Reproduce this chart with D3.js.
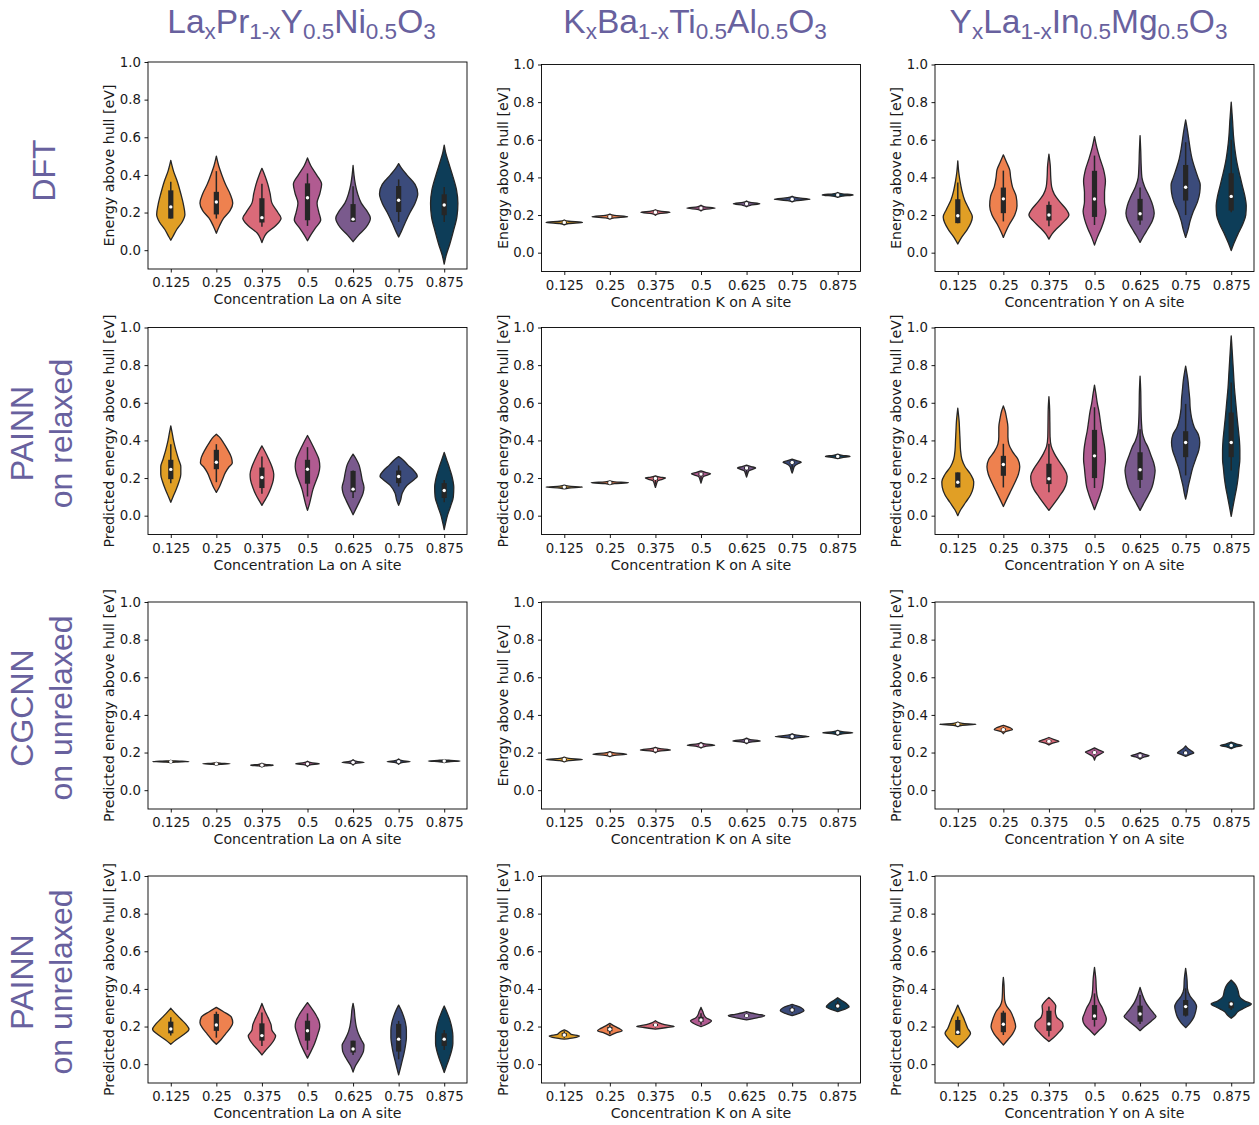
<!DOCTYPE html>
<html>
<head>
<meta charset="utf-8">
<script src="https://cdn.jsdelivr.net/npm/d3@7"></script>
<style>
  body { margin: 0; background: #fff; }
  text { font-family: "DejaVu Sans", sans-serif; }
</style>
</head>
<body>
<svg id="chart" width="1259" height="1125"></svg>
<script>
// categories and labels
var concentrations = ["0.125", "0.25", "0.375", "0.5", "0.625", "0.75", "0.875"];
var violinColors = ["#e19f25", "#ee814f", "#da6a79", "#b15b91", "#7a5a8d", "#3b4b7b", "#0d3d58"];
var yTicks = [0.0, 0.2, 0.4, 0.6, 0.8, 1.0];
var xLabels = ["Concentration La on A site", "Concentration K on A site", "Concentration Y on A site"];
var yLabelDft = "Energy above hull [eV]";
var yLabelPred = "Predicted energy above hull [eV]";
// [text, subscript?]
var colTitles = [
  [["La", 0], ["x", 1], ["Pr", 0], ["1-x", 1], ["Y", 0], ["0.5", 1], ["Ni", 0], ["0.5", 1], ["O", 0], ["3", 1]],
  [["K", 0], ["x", 1], ["Ba", 0], ["1-x", 1], ["Ti", 0], ["0.5", 1], ["Al", 0], ["0.5", 1], ["O", 0], ["3", 1]],
  [["Y", 0], ["x", 1], ["La", 0], ["1-x", 1], ["In", 0], ["0.5", 1], ["Mg", 0], ["0.5", 1], ["O", 0], ["3", 1]]
];
var rowLabels = [["DFT"], ["PAINN", "on relaxed"], ["CGCNN", "on unrelaxed"], ["PAINN", "on unrelaxed"]];

// violin outlines: [energy, half width as fraction of category step]
// box stats: [whisker low, q1, median, q3, whisker high]

// row 1 : DFT
var dftLaPrShapes = [
  [[0.053,0],[0.07,0.04],[0.11,0.13],[0.15,0.25],[0.19,0.31],[0.24,0.28],[0.30,0.22],[0.36,0.15],[0.42,0.06],[0.477,0]],
  [[0.09,0],[0.13,0.07],[0.17,0.16],[0.21,0.3],[0.25,0.36],[0.30,0.3],[0.35,0.2],[0.40,0.12],[0.45,0.05],[0.50,0]],
  [[0.04,0],[0.06,0.03],[0.09,0.1],[0.13,0.3],[0.17,0.42],[0.20,0.35],[0.25,0.22],[0.30,0.18],[0.35,0.13],[0.40,0.06],[0.435,0]],
  [[0.05,0],[0.08,0.07],[0.12,0.18],[0.16,0.29],[0.20,0.25],[0.25,0.21],[0.30,0.27],[0.35,0.31],[0.40,0.2],[0.45,0.07],[0.49,0]],
  [[0.045,0],[0.08,0.12],[0.12,0.28],[0.17,0.38],[0.21,0.3],[0.25,0.18],[0.30,0.1],[0.35,0.05],[0.40,0.02],[0.45,0]],
  [[0.07,0],[0.10,0.06],[0.15,0.15],[0.20,0.25],[0.25,0.36],[0.30,0.42],[0.35,0.36],[0.40,0.18],[0.44,0.05],[0.46,0]],
  [[-0.074,0],[-0.03,0.04],[0.03,0.12],[0.10,0.2],[0.18,0.28],[0.25,0.3],[0.32,0.27],[0.40,0.18],[0.47,0.09],[0.52,0.03],[0.558,0]]
];
var dftLaPrBoxes = [
  [0.168,0.168,0.23,0.318,0.364], [0.168,0.19,0.256,0.31,0.42], [0.124,0.147,0.173,0.276,0.353],
  [0.129,0.159,0.279,0.355,0.408], [0.15,0.15,0.165,0.245,0.34], [0.15,0.203,0.265,0.341,0.376],
  [0.15,0.186,0.24,0.297,0.336]
];
var dftKBaShapes = [
  [[0.148,0],[0.155,0.1],[0.161,0.4],[0.167,0.1],[0.174,0]],
  [[0.178,0],[0.185,0.1],[0.191,0.39],[0.198,0.1],[0.205,0]],
  [[0.199,0],[0.207,0.08],[0.215,0.32],[0.221,0.1],[0.228,0]],
  [[0.222,0],[0.23,0.08],[0.237,0.31],[0.244,0.08],[0.252,0]],
  [[0.244,0],[0.252,0.08],[0.26,0.29],[0.267,0.08],[0.275,0]],
  [[0.27,0],[0.277,0.1],[0.284,0.39],[0.292,0.1],[0.30,0]],
  [[0.294,0],[0.30,0.1],[0.307,0.34],[0.313,0.1],[0.32,0]]
];
var dftKBaBoxes = [
  [0.153,0.157,0.161,0.165,0.169], [0.183,0.187,0.191,0.195,0.199], [0.207,0.211,0.215,0.219,0.223],
  [0.229,0.233,0.237,0.241,0.245], [0.252,0.256,0.26,0.264,0.268], [0.276,0.28,0.284,0.288,0.292],
  [0.299,0.303,0.307,0.311,0.315]
];
var dftYLaShapes = [
  [[0.046,0],[0.08,0.08],[0.12,0.2],[0.16,0.29],[0.19,0.32],[0.23,0.25],[0.28,0.15],[0.33,0.09],[0.38,0.05],[0.43,0.02],[0.488,0]],
  [[0.081,0],[0.11,0.05],[0.15,0.13],[0.20,0.25],[0.25,0.3],[0.30,0.28],[0.35,0.2],[0.40,0.16],[0.44,0.14],[0.48,0.07],[0.52,0]],
  [[0.072,0],[0.10,0.07],[0.13,0.18],[0.17,0.35],[0.20,0.44],[0.23,0.38],[0.27,0.24],[0.31,0.12],[0.35,0.06],[0.40,0.04],[0.46,0.03],[0.523,0]],
  [[0.04,0],[0.08,0.06],[0.13,0.15],[0.18,0.22],[0.22,0.25],[0.27,0.22],[0.32,0.22],[0.38,0.24],[0.44,0.2],[0.50,0.12],[0.56,0.05],[0.617,0]],
  [[0.055,0],[0.09,0.08],[0.13,0.18],[0.17,0.27],[0.21,0.31],[0.25,0.28],[0.30,0.2],[0.35,0.1],[0.40,0.04],[0.46,0.025],[0.54,0.015],[0.622,0]],
  [[0.081,0],[0.12,0.05],[0.17,0.1],[0.22,0.17],[0.27,0.26],[0.32,0.31],[0.36,0.32],[0.40,0.27],[0.45,0.2],[0.50,0.14],[0.55,0.1],[0.60,0.07],[0.65,0.04],[0.705,0]],
  [[0.011,0],[0.05,0.06],[0.10,0.15],[0.15,0.25],[0.20,0.32],[0.25,0.33],[0.30,0.3],[0.35,0.25],[0.40,0.2],[0.45,0.15],[0.50,0.11],[0.55,0.08],[0.62,0.05],[0.70,0.03],[0.80,0]]
];
var dftYLaBoxes = [
  [0.157,0.157,0.196,0.284,0.373], [0.166,0.21,0.286,0.346,0.436], [0.14,0.171,0.2,0.254,0.272],
  [0.147,0.19,0.285,0.435,0.516], [0.148,0.171,0.207,0.286,0.346], [0.2,0.277,0.348,0.466,0.587],
  [0.215,0.224,0.299,0.422,0.6]
];

// row 2 : PAINN on relaxed
var painnRelLaPrShapes = [
  [[0.071,0],[0.10,0.05],[0.14,0.12],[0.18,0.18],[0.22,0.22],[0.26,0.22],[0.30,0.17],[0.35,0.11],[0.40,0.06],[0.44,0.03],[0.477,0]],
  [[0.124,0],[0.15,0.06],[0.19,0.13],[0.23,0.2],[0.26,0.28],[0.28,0.35],[0.31,0.33],[0.35,0.25],[0.39,0.15],[0.42,0.06],[0.433,0]],
  [[0.055,0],[0.08,0.06],[0.11,0.13],[0.15,0.2],[0.19,0.25],[0.22,0.26],[0.26,0.22],[0.30,0.15],[0.34,0.07],[0.371,0]],
  [[0.028,0],[0.06,0.04],[0.10,0.08],[0.14,0.12],[0.18,0.18],[0.22,0.24],[0.26,0.27],[0.30,0.25],[0.34,0.18],[0.38,0.1],[0.426,0]],
  [[0.005,0],[0.04,0.07],[0.08,0.15],[0.12,0.22],[0.15,0.24],[0.19,0.2],[0.23,0.17],[0.27,0.13],[0.30,0.07],[0.327,0]],
  [[0.055,0],[0.08,0.04],[0.12,0.08],[0.16,0.18],[0.19,0.33],[0.21,0.41],[0.24,0.33],[0.27,0.2],[0.30,0.08],[0.314,0]],
  [[-0.074,0],[-0.04,0.03],[0.0,0.07],[0.05,0.14],[0.10,0.2],[0.15,0.21],[0.20,0.18],[0.25,0.12],[0.30,0.05],[0.336,0]]
];
var painnRelLaPrBoxes = [
  [0.173,0.194,0.246,0.297,0.38], [0.178,0.247,0.284,0.35,0.38], [0.117,0.147,0.203,0.256,0.314],
  [0.102,0.17,0.247,0.297,0.364], [0.094,0.125,0.141,0.238,0.24], [0.155,0.173,0.208,0.24,0.267],
  [0.071,0.094,0.134,0.173,0.19]
];
var painnRelKBaShapes = [
  [[0.142,0],[0.147,0.1],[0.152,0.4],[0.157,0.1],[0.162,0]],
  [[0.165,0],[0.17,0.1],[0.175,0.41],[0.18,0.1],[0.185,0]],
  [[0.15,0],[0.165,0.02],[0.185,0.05],[0.193,0.15],[0.20,0.22],[0.205,0.1],[0.212,0]],
  [[0.173,0],[0.19,0.02],[0.208,0.05],[0.216,0.14],[0.223,0.21],[0.23,0.1],[0.238,0]],
  [[0.205,0],[0.22,0.02],[0.238,0.05],[0.246,0.13],[0.254,0.2],[0.261,0.1],[0.268,0]],
  [[0.226,0],[0.24,0.02],[0.262,0.05],[0.276,0.13],[0.284,0.2],[0.292,0.1],[0.30,0]],
  [[0.303,0],[0.309,0.1],[0.315,0.27],[0.321,0.1],[0.327,0]]
];
var painnRelKBaBoxes = [
  [0.145,0.149,0.152,0.155,0.159], [0.168,0.172,0.175,0.178,0.182], [0.165,0.19,0.198,0.204,0.21],
  [0.19,0.213,0.221,0.227,0.232], [0.222,0.245,0.253,0.259,0.264], [0.245,0.276,0.283,0.289,0.295],
  [0.308,0.312,0.315,0.318,0.322]
];
var painnRelYLaShapes = [
  [[0.0,0],[0.03,0.06],[0.07,0.17],[0.11,0.28],[0.15,0.34],[0.18,0.35],[0.22,0.28],[0.26,0.16],[0.30,0.09],[0.35,0.06],[0.40,0.05],[0.45,0.04],[0.50,0.03],[0.571,0]],
  [[0.049,0],[0.08,0.06],[0.12,0.14],[0.17,0.24],[0.22,0.33],[0.26,0.36],[0.30,0.32],[0.34,0.2],[0.38,0.12],[0.42,0.1],[0.47,0.1],[0.52,0.07],[0.555,0.04],[0.583,0]],
  [[0.028,0],[0.06,0.1],[0.10,0.22],[0.14,0.33],[0.18,0.39],[0.21,0.4],[0.25,0.33],[0.29,0.22],[0.33,0.12],[0.37,0.05],[0.42,0.025],[0.50,0.02],[0.57,0.015],[0.632,0]],
  [[0.032,0],[0.07,0.06],[0.11,0.12],[0.15,0.17],[0.20,0.2],[0.25,0.22],[0.30,0.24],[0.35,0.23],[0.40,0.2],[0.45,0.16],[0.50,0.13],[0.55,0.1],[0.60,0.06],[0.65,0.03],[0.694,0]],
  [[0.028,0],[0.06,0.07],[0.10,0.16],[0.15,0.26],[0.20,0.31],[0.24,0.33],[0.28,0.3],[0.32,0.24],[0.36,0.18],[0.40,0.1],[0.44,0.05],[0.50,0.03],[0.58,0.02],[0.66,0.015],[0.742,0]],
  [[0.088,0],[0.12,0.03],[0.16,0.06],[0.20,0.1],[0.25,0.15],[0.30,0.22],[0.35,0.29],[0.39,0.31],[0.43,0.28],[0.47,0.19],[0.52,0.13],[0.57,0.1],[0.62,0.09],[0.67,0.07],[0.72,0.05],[0.795,0]],
  [[-0.004,0],[0.05,0.04],[0.10,0.08],[0.15,0.12],[0.20,0.15],[0.25,0.17],[0.30,0.19],[0.35,0.19],[0.40,0.18],[0.45,0.16],[0.52,0.13],[0.60,0.1],[0.68,0.07],[0.76,0.05],[0.84,0.03],[0.90,0.015],[0.956,0]]
];
var painnRelYLaBoxes = [
  [0.15,0.15,0.178,0.23,0.23], [0.15,0.212,0.272,0.318,0.382], [0.125,0.168,0.196,0.276,0.382],
  [0.147,0.2,0.318,0.456,0.576], [0.147,0.19,0.244,0.337,0.459], [0.214,0.311,0.389,0.449,0.594],
  [0.24,0.311,0.389,0.548,0.708]
];

// row 3 : CGCNN on unrelaxed
var cgcnnLaPrShapes = [
  [[0.145,0],[0.149,0.1],[0.152,0.4],[0.155,0.1],[0.159,0]],
  [[0.132,0],[0.137,0.08],[0.14,0.3],[0.144,0.08],[0.148,0]],
  [[0.123,0],[0.129,0.07],[0.133,0.25],[0.137,0.07],[0.143,0]],
  [[0.126,0],[0.134,0.06],[0.14,0.26],[0.146,0.08],[0.154,0]],
  [[0.134,0],[0.142,0.06],[0.148,0.24],[0.153,0.08],[0.162,0]],
  [[0.138,0],[0.146,0.07],[0.152,0.25],[0.157,0.08],[0.166,0]],
  [[0.147,0],[0.151,0.1],[0.155,0.35],[0.159,0.1],[0.163,0]]
];
var cgcnnLaPrBoxes = [
  [0.147,0.149,0.152,0.155,0.157], [0.135,0.137,0.14,0.143,0.145], [0.128,0.13,0.133,0.136,0.138],
  [0.135,0.137,0.14,0.143,0.145], [0.143,0.145,0.148,0.151,0.153], [0.147,0.149,0.152,0.155,0.157],
  [0.15,0.152,0.155,0.158,0.16]
];
var cgcnnKBaShapes = [
  [[0.15,0],[0.157,0.1],[0.163,0.4],[0.169,0.1],[0.176,0]],
  [[0.178,0],[0.185,0.1],[0.191,0.37],[0.198,0.1],[0.205,0]],
  [[0.199,0],[0.207,0.08],[0.214,0.33],[0.221,0.1],[0.228,0]],
  [[0.224,0],[0.232,0.08],[0.239,0.3],[0.246,0.08],[0.254,0]],
  [[0.247,0],[0.255,0.08],[0.262,0.3],[0.269,0.08],[0.277,0]],
  [[0.271,0],[0.278,0.1],[0.285,0.37],[0.292,0.1],[0.30,0]],
  [[0.292,0],[0.299,0.1],[0.305,0.33],[0.311,0.1],[0.318,0]]
];
var cgcnnKBaBoxes = [
  [0.155,0.159,0.163,0.167,0.171], [0.183,0.187,0.191,0.195,0.199], [0.206,0.21,0.214,0.218,0.222],
  [0.231,0.235,0.239,0.243,0.247], [0.254,0.258,0.262,0.266,0.27], [0.277,0.281,0.285,0.289,0.293],
  [0.297,0.301,0.305,0.309,0.313]
];
var cgcnnYLaShapes = [
  [[0.338,0],[0.345,0.1],[0.35,0.4],[0.355,0.1],[0.362,0]],
  [[0.30,0],[0.312,0.06],[0.322,0.2],[0.332,0.15],[0.345,0]],
  [[0.24,0],[0.25,0.08],[0.26,0.22],[0.27,0.1],[0.28,0]],
  [[0.16,0],[0.18,0.04],[0.195,0.15],[0.203,0.2],[0.213,0.1],[0.225,0]],
  [[0.165,0],[0.175,0.08],[0.183,0.2],[0.19,0.1],[0.20,0]],
  [[0.18,0],[0.19,0.1],[0.198,0.18],[0.21,0.12],[0.222,0.05],[0.235,0]],
  [[0.22,0],[0.23,0.1],[0.238,0.24],[0.245,0.12],[0.255,0]]
];
var cgcnnYLaBoxes = [
  [0.345,0.348,0.35,0.352,0.355], [0.31,0.318,0.322,0.328,0.335], [0.248,0.255,0.26,0.265,0.272],
  [0.185,0.197,0.2,0.205,0.215], [0.172,0.18,0.183,0.186,0.192], [0.188,0.195,0.198,0.205,0.215],
  [0.228,0.234,0.238,0.242,0.248]
];

// row 4 : PAINN on unrelaxed
var painnUnrLaPrShapes = [
  [[0.106,0],[0.13,0.12],[0.16,0.3],[0.186,0.4],[0.21,0.34],[0.24,0.22],[0.27,0.1],[0.297,0]],
  [[0.106,0],[0.13,0.1],[0.16,0.2],[0.19,0.3],[0.22,0.36],[0.25,0.33],[0.28,0.15],[0.302,0]],
  [[0.049,0],[0.07,0.07],[0.10,0.18],[0.13,0.27],[0.15,0.3],[0.18,0.22],[0.21,0.2],[0.24,0.15],[0.28,0.07],[0.323,0]],
  [[0.032,0],[0.06,0.06],[0.10,0.14],[0.14,0.2],[0.17,0.24],[0.20,0.27],[0.23,0.25],[0.26,0.19],[0.29,0.11],[0.327,0]],
  [[-0.042,0],[-0.01,0.05],[0.03,0.15],[0.07,0.23],[0.10,0.24],[0.13,0.18],[0.16,0.12],[0.20,0.07],[0.25,0.04],[0.29,0.025],[0.323,0]],
  [[-0.057,0],[-0.02,0.04],[0.02,0.08],[0.06,0.12],[0.10,0.15],[0.14,0.17],[0.18,0.17],[0.22,0.15],[0.26,0.1],[0.29,0.05],[0.314,0]],
  [[-0.044,0],[-0.01,0.05],[0.03,0.11],[0.07,0.16],[0.11,0.19],[0.15,0.19],[0.19,0.17],[0.23,0.13],[0.27,0.07],[0.309,0]]
];
var painnUnrLaPrBoxes = [
  [0.152,0.164,0.187,0.226,0.249], [0.141,0.177,0.208,0.267,0.279], [0.097,0.125,0.152,0.217,0.274],
  [0.076,0.125,0.178,0.231,0.27], [0.049,0.062,0.081,0.125,0.125], [0.026,0.067,0.133,0.214,0.23],
  [0.076,0.097,0.133,0.164,0.182]
];
var painnUnrKBaShapes = [
  [[0.133,0],[0.14,0.2],[0.15,0.33],[0.158,0.15],[0.17,0.1],[0.182,0]],
  [[0.152,0],[0.165,0.12],[0.178,0.27],[0.19,0.2],[0.205,0.08],[0.217,0]],
  [[0.186,0],[0.195,0.25],[0.20,0.41],[0.21,0.2],[0.22,0.08],[0.231,0]],
  [[0.20,0],[0.215,0.15],[0.231,0.23],[0.245,0.12],[0.26,0.07],[0.28,0.04],[0.302,0]],
  [[0.235,0],[0.245,0.2],[0.258,0.4],[0.265,0.25],[0.272,0.1],[0.279,0]],
  [[0.258,0],[0.27,0.15],[0.285,0.26],[0.30,0.2],[0.31,0.1],[0.318,0]],
  [[0.279,0],[0.29,0.13],[0.305,0.25],[0.32,0.2],[0.34,0.08],[0.353,0]]
];
var painnUnrKBaBoxes = [
  [0.14,0.148,0.155,0.165,0.175], [0.16,0.175,0.186,0.198,0.21], [0.195,0.203,0.208,0.214,0.22],
  [0.21,0.225,0.235,0.252,0.27], [0.245,0.253,0.258,0.264,0.27], [0.27,0.28,0.288,0.298,0.31],
  [0.29,0.30,0.309,0.322,0.335]
];
var painnUnrYLaShapes = [
  [[0.088,0],[0.11,0.1],[0.14,0.22],[0.164,0.28],[0.19,0.22],[0.22,0.17],[0.25,0.12],[0.28,0.06],[0.314,0]],
  [[0.102,0],[0.13,0.1],[0.16,0.2],[0.20,0.27],[0.24,0.23],[0.28,0.16],[0.31,0.07],[0.34,0.03],[0.38,0.02],[0.42,0.015],[0.461,0]],
  [[0.12,0],[0.14,0.1],[0.17,0.22],[0.20,0.31],[0.22,0.3],[0.25,0.17],[0.28,0.14],[0.31,0.15],[0.33,0.1],[0.355,0]],
  [[0.155,0],[0.18,0.1],[0.21,0.22],[0.24,0.26],[0.27,0.22],[0.30,0.17],[0.33,0.1],[0.36,0.06],[0.40,0.04],[0.45,0.03],[0.514,0]],
  [[0.178,0],[0.20,0.1],[0.23,0.25],[0.253,0.35],[0.27,0.3],[0.30,0.2],[0.33,0.12],[0.37,0.05],[0.408,0]],
  [[0.194,0],[0.22,0.1],[0.25,0.18],[0.28,0.22],[0.306,0.24],[0.33,0.2],[0.36,0.1],[0.40,0.04],[0.45,0.03],[0.509,0]],
  [[0.244,0],[0.26,0.08],[0.28,0.15],[0.30,0.3],[0.32,0.44],[0.335,0.3],[0.36,0.18],[0.39,0.15],[0.42,0.1],[0.447,0]]
];
var painnUnrYLaBoxes = [
  [0.155,0.155,0.17,0.235,0.253], [0.155,0.17,0.212,0.274,0.284], [0.147,0.177,0.214,0.284,0.306],
  [0.2,0.235,0.256,0.314,0.376], [0.214,0.226,0.267,0.311,0.367], [0.253,0.258,0.306,0.341,0.403],
  [0.288,0.297,0.32,0.332,0.337]
];

var shapeGrid = [
  [dftLaPrShapes, dftKBaShapes, dftYLaShapes],
  [painnRelLaPrShapes, painnRelKBaShapes, painnRelYLaShapes],
  [cgcnnLaPrShapes, cgcnnKBaShapes, cgcnnYLaShapes],
  [painnUnrLaPrShapes, painnUnrKBaShapes, painnUnrYLaShapes]
];
var boxGrid = [
  [dftLaPrBoxes, dftKBaBoxes, dftYLaBoxes],
  [painnRelLaPrBoxes, painnRelKBaBoxes, painnRelYLaBoxes],
  [cgcnnLaPrBoxes, cgcnnKBaBoxes, cgcnnYLaBoxes],
  [painnUnrLaPrBoxes, painnUnrKBaBoxes, painnUnrYLaBoxes]
];
var yLabelGrid = [
  [yLabelDft, yLabelDft, yLabelDft],
  [yLabelPred, yLabelPred, yLabelPred],
  [yLabelPred, yLabelDft, yLabelPred],
  [yLabelPred, yLabelPred, yLabelPred]
];

// layout
var colLeft = [148, 541.5, 935];
var rowTop = [64.5, 327.5, 602, 876];
var plotW = 319, plotH = 207;
var titleColor = "#68619e";
var ink = "#262626";

var svg = d3.select("#chart");

// column titles
colTitles.forEach(function(parts, c) {
  var t = svg.append("text")
      .attr("x", colLeft[c] + plotW / 2 - 6)
      .attr("y", 33)
      .attr("text-anchor", "middle")
      .style("font-family", "'Liberation Sans', Arial, sans-serif")
      .style("font-size", "33.5px")
      .attr("fill", titleColor);
  var wasSub = false;
  parts.forEach(function(p) {
    var ts = t.append("tspan").text(p[0]);
    if (p[1]) {
      ts.style("font-size", "22.5px").attr("dy", wasSub ? 0 : 6);
      wasSub = true;
    } else {
      if (wasSub) ts.attr("dy", -6);
      wasSub = false;
    }
  });
});

// row labels (rotated)
rowLabels.forEach(function(lines, r) {
  var cy = rowTop[r] + plotH / 2 + 2.5;
  var baseX = lines.length == 1 ? [55] : [33, 72];
  lines.forEach(function(line, i) {
    svg.append("text")
        .attr("transform", "translate(" + baseX[i] + "," + cy + ") rotate(-90)")
        .attr("text-anchor", "middle")
        .style("font-family", "'Liberation Sans', Arial, sans-serif")
        .style("font-size", "32px")
        .attr("fill", titleColor)
        .text(line);
  });
});

// the panels
for (var r = 0; r < 4; r++) {
  for (var c = 0; c < 3; c++) {
    drawPanel(r, c);
  }
}

function drawPanel(r, c) {
  var left = colLeft[c];
  var top = rowTop[r] + (r == 0 && c == 0 ? -2.5 : 0);
  var g = svg.append("g");

  var x = d3.scalePoint().domain(concentrations).range([left, left + plotW]).padding(0.5);
  var y = d3.scaleLinear().domain([-0.1, 1.0]).range([top + plotH, top]);
  var step = x.step();

  // violins
  var shapes = shapeGrid[r][c];
  var boxes = boxGrid[r][c];
  concentrations.forEach(function(conc, i) {
    var cx = x(conc);
    var area = d3.area()
        .curve(d3.curveMonotoneY)
        .y(function(d) { return y(d[0]); })
        .x0(function(d) { return cx - d[1] * step; })
        .x1(function(d) { return cx + d[1] * step; });
    g.append("path")
        .attr("d", area(shapes[i]))
        .attr("fill", violinColors[i])
        .attr("stroke", ink)
        .attr("stroke-width", 1.3)
        .attr("stroke-linejoin", "round");

    var b = boxes[i];
    g.append("line")
        .attr("x1", cx).attr("x2", cx)
        .attr("y1", y(b[0])).attr("y2", y(b[4]))
        .attr("stroke", ink)
        .attr("stroke-width", 1.5);
    g.append("rect")
        .attr("x", cx - 2.6)
        .attr("width", 5.2)
        .attr("y", y(b[3]))
        .attr("height", Math.max(1.5, y(b[1]) - y(b[3])))
        .attr("fill", ink);
    g.append("circle")
        .attr("cx", cx)
        .attr("cy", y(b[2]))
        .attr("r", 1.7)
        .attr("fill", "#fff");
  });

  // frame
  g.append("rect")
      .attr("x", left).attr("y", top)
      .attr("width", plotW).attr("height", plotH)
      .attr("fill", "none")
      .attr("stroke", "#000")
      .attr("stroke-width", 0.9);

  // axes
  var yAxis = d3.axisLeft(y).tickValues(yTicks).tickFormat(d3.format(".1f"))
      .tickSize(3.5).tickPadding(3.5);
  var ya = g.append("g").attr("transform", "translate(" + left + ",0)").call(yAxis);
  var xAxis = d3.axisBottom(x).tickSize(3.5).tickPadding(5.5);
  var xa = g.append("g").attr("transform", "translate(0," + (top + plotH) + ")").call(xAxis);
  [ya, xa].forEach(function(a) {
    a.select(".domain").remove();
    a.selectAll("line").attr("stroke", "#000").attr("stroke-width", 0.9);
    a.selectAll("text")
        .style("font-family", "'DejaVu Sans', sans-serif")
        .style("font-size", "13.3px")
        .attr("fill", "#1a1a1a");
  });

  // axis titles
  g.append("text")
      .attr("x", left + plotW / 2)
      .attr("y", top + plotH + 35)
      .attr("text-anchor", "middle")
      .style("font-size", "14.2px")
      .attr("fill", "#1a1a1a")
      .text(xLabels[c]);
  g.append("text")
      .attr("transform", "translate(" + (left - 38.5) + "," + (top + plotH / 2) + ") rotate(-90)")
      .attr("text-anchor", "middle")
      .attr("dy", "0.35em")
      .style("font-size", "14.2px")
      .attr("fill", "#1a1a1a")
      .text(yLabelGrid[r][c]);
}
</script>
</body>
</html>
